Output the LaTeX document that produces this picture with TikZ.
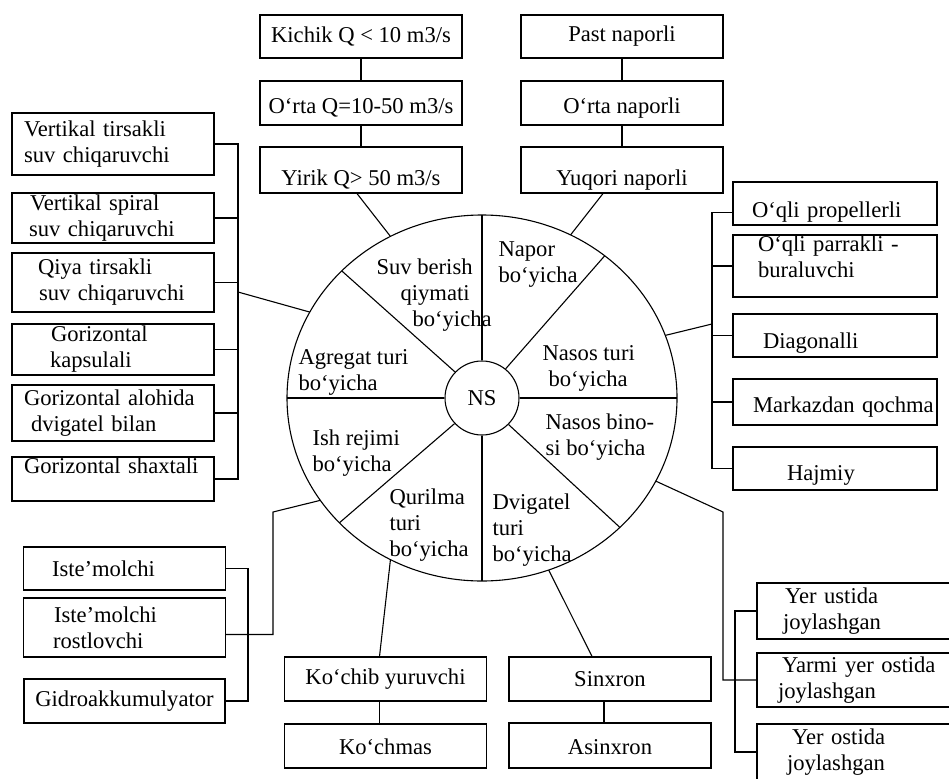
\documentclass[tikz,border=0pt]{standalone}
\usepackage{fontspec}
\setmainfont{Liberation Serif}
\usetikzlibrary{calc}

\tikzset{
  box/.style={draw, inner xsep=3pt, inner ysep=0pt, minimum width=202pt, minimum height=44pt},
  lbox/.style={box, align=left, inner xsep=12pt, text width=#1},
  low/.style={text height=#1, text depth=5pt},
  sec/.style={anchor=west, align=left, inner sep=0pt}
}

\begin{document}
\begin{tikzpicture}[x=1pt, y=-1pt, line width=1.1pt, font=\fontsize{22.6}{26}\selectfont]
        \useasboundingbox (0,0) rectangle (949,778);
        \clip (0,0) rectangle (949,778);
        % markaz
        \coordinate (c) at (482,398);
        \draw (c) ellipse [x radius=195pt, y radius=183pt];
        \node[draw, circle, minimum size=74pt, inner sep=0pt] (ns) at (c) {NS};
        \foreach \a in {90,51,0,-45,-90,223,180,136}
          \draw (ns.\a) -- ($(c)+(\a:195pt and 183pt)$);
        \foreach \n/\t in {su/118, na/63, ag/152, nt/20, nb/-27, dv/-70, qu/242, ish/214}
          \coordinate (e-\n) at ($(c)+(\t:195pt and 183pt)$);
        % sektorlar
        \node[sec] (t-su) at (376,295) {Suv berish\\\hspace*{24pt}qiymati\\\hspace*{36pt}bo‘yicha};
        \node[sec] (t-na) at (498,265) {Napor\\bo‘yicha};
        \node[sec] (t-ag) at (298,372) {Agregat turi\\bo‘yicha};
        \node[sec] (t-nt) at (542,368) {Nasos turi\\\hspace*{6pt}bo‘yicha};
        \node[sec] (t-ish) at (312,453) {Ish rejimi\\bo‘yicha};
        \node[sec] (t-nb) at (545,437) {Nasos bino-\\si bo‘yicha};
        \node[sec] (t-qu) at (389,525) {Qurilma\\turi\\bo‘yicha};
        \node[sec] (t-dv) at (492,530) {Dvigatel\\turi\\bo‘yicha};
        % suv berish
        \node[box, minimum height=43pt] (q1) at (361,36.5) {Kichik Q < 10 m3/s};
        \node[box, low=26pt] (q2) at (361,103) {O‘rta Q=10-50 m3/s};
        \node[box, low=36pt, minimum height=46pt] (q3) at (361,170) {Yirik Q> 50 m3/s};
        \draw (q1) -- (q2) (q2) -- (q3);
        \draw (e-su) -- ([xshift=-4pt]q3.south);
        % napor
        \node[box, minimum height=43pt] (n1) at (622,36.5) {Past naporli};
        \node[box, low=26pt] (n2) at (622,103) {O‘rta naporli};
        \node[box, low=36pt, minimum height=46pt] (n3) at (622,170) {Yuqori naporli};
        \draw (n1) -- (n2) (n2) -- (n3);
        \draw (e-na) -- ([xshift=-19pt]n3.south);
        % agregat turi
        \node[lbox=178pt, minimum height=62pt] (v1) at (113,144) {Vertikal tirsakli\\suv chiqaruvchi};
        \node[lbox=178pt, minimum height=50pt] (v2) at (113,218) {\hspace*{6pt}Vertikal spiral\\\hspace*{5pt}suv chiqaruvchi};
        \node[lbox=178pt, minimum height=59pt] (v3) at (113,282.5) {\hspace*{14pt}Qiya tirsakli\\\hspace*{15pt}suv chiqaruvchi};
        \node[lbox=178pt, minimum height=51pt] (v4) at (113,349.5) {\hspace*{27pt}Gorizontal\\\hspace*{26pt}kapsulali};
        \node[lbox=178pt, minimum height=56pt] (v5) at (113,413) {Gorizontal alohida\\\hspace*{7pt}dvigatel bilan};
        \node[lbox=178pt, minimum height=44pt] (v6) at (113,479) {Gorizontal shaxtali\\\mbox{}};
        \coordinate (lb) at (238,292);
        \draw (v1.east) -- (v1.east -| lb) -- (v6.east -| lb) -- (v6.east);
        \foreach \v in {v2,v3,v4,v5}
          \draw (\v.east) -- (\v.east -| lb);
        \draw (lb) -- (e-ag);
        % nasos turi
        \node[lbox=180pt, low=32pt, minimum height=43pt] (p1) at (835,203.5) {\hspace*{7pt}O‘qli propellerli};
        \node[lbox=180pt, minimum height=62pt] (p2) at (835,266) {\hspace*{13pt}O‘qli parrakli -\\\hspace*{13pt}buraluvchi\\[-8pt]\mbox{}};
        \node[lbox=180pt, low=30pt, minimum height=43pt] (p3) at (835,335.5) {\hspace*{18pt}Diagonalli};
        \node[lbox=180pt, low=26pt, minimum height=46pt] (p4) at (835,402) {\hspace*{8pt}\mbox{Markazdan qochma}};
        \node[lbox=180pt, low=28pt, minimum height=43pt] (p5) at (835,468.5) {\hspace*{42pt}Hajmiy};
        \coordinate (rb) at (712,324);
        \draw ([yshift=-9pt]p1.west) -- ([yshift=-9pt]p1.west -| rb) -- (p5.west -| rb) -- (p5.west);
        \foreach \p in {p2,p3,p4}
          \draw (\p.west) -- (\p.west -| rb);
        \draw (e-nt) -- (rb);
        % ish rejimi
        \node[lbox=177pt, minimum height=43pt] (i1) at (124.5,568.5) {\hspace*{16pt}Iste’molchi};
        \node[lbox=177pt, minimum height=59pt] (i2) at (124.5,627.5) {\hspace*{18pt}Iste’molchi\\\hspace*{17pt}rostlovchi};
        \node[box, minimum width=201pt] (i3) at (124.5,701) {Gidroakkumulyator};
        \coordinate (ib) at (248,635);
        \coordinate (ik) at (273,512);
        \draw (i1.east) -- (i1.east -| ib) -- (i3.east -| ib) -- (i3.east);
        \draw (e-ish) -- (ik) |- ([yshift=-7pt]i2.east);
        % qurilma turi
        \node[box] (k1) at (385.5,679) {Ko‘chib yuruvchi};
        \node[box, low=22pt] (k2) at (385.5,746) {Ko‘chmas};
        \draw ([xshift=-6pt]k1.south) -- ([xshift=-6pt]k2.north);
        \draw (e-qu) -- ([xshift=-6pt]k1.north);
        % dvigatel turi
        \node[box] (s1) at (610,679) {Sinxron};
        \node[box, low=22pt, minimum height=45pt] (s2) at (610,745.5) {Asinxron};
        \draw ([xshift=-6pt]s1.south) -- ([xshift=-6pt]s2.north);
        \draw (e-dv) -- ([xshift=-18pt]s1.north);
        % nasos binosi
        \node[lbox=199pt, minimum height=56pt] (y1) at (868.5,611) {\hspace*{16pt}Yer ustida\\\hspace*{14pt}joylashgan};
        \node[lbox=199pt, minimum height=54pt] (y2) at (868.5,680) {\hspace*{13pt}Yarmi yer ostida\\\hspace*{9pt}joylashgan};
        \node[lbox=199pt, minimum height=56pt] (y3) at (868.5,752) {\hspace*{23pt}Yer ostida\\\hspace*{18pt}joylashgan};
        \coordinate (yb) at (735,678);
        \coordinate (yk) at (723,512);
        \draw (y1.west) -- (y1.west -| yb) -- (y3.west -| yb) -- (y3.west);
        \draw (e-nb) -- (yk) |- (y2.west);
    \end{tikzpicture}
\end{document}
